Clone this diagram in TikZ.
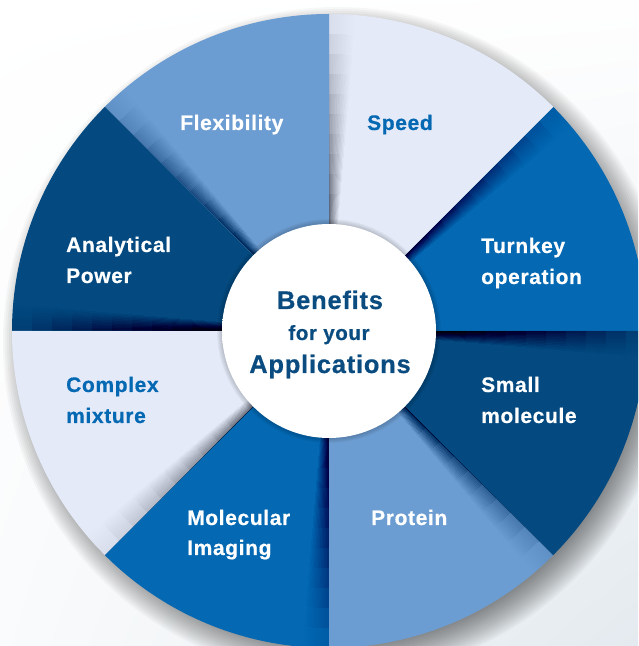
\documentclass[tikz,border=0pt]{standalone}
\usepackage{fontspec}
\newfontfamily\wheelfont{Liberation Sans}[LetterSpace=3.0, BoldFeatures={FakeBold=0.5}]
\usetikzlibrary{calc,shadings}
\definecolor{segdark}{RGB}{4,74,128}
\definecolor{segmid}{RGB}{4,104,178}
\definecolor{seglight}{RGB}{108,157,210}
\definecolor{segpale}{RGB}{228,234,248}
\definecolor{hubtext}{RGB}{10,76,128}
\definecolor{bgcorner}{RGB}{228,234,239}
% white disc with a thin grey rim
\pgfdeclareradialshading{hubshade}{\pgfpoint{0bp}{0bp}}{color(0bp)=(white); color(45bp)=(white); color(48.5bp)=(black!10); color(50bp)=(black!28)}

\begin{document}
\begin{tikzpicture}[x=1pt,y=1pt,
  lbl/.style={font=\wheelfont\bfseries\fontsize{21}{25}\selectfont, inner sep=0pt, anchor=base west},
  lblw/.style={lbl, text=white},
  lblb/.style={lbl, text=segmid},
  hub/.style={font=\wheelfont\bfseries\fontsize{#1}{#1}\selectfont, inner sep=0pt, anchor=base, text=hubtext}]
\useasboundingbox (0,0) rectangle (638,646);
\clip (0,0) rectangle (638,646);

% backdrop
\shade[upper left=white, upper right=white!97!bgcorner, lower left=white!80!bgcorner, lower right=bgcorner] (0,0) rectangle (638,646);

\coordinate (c) at (329,315);

% soft drop shadow of the wheel, cast towards the lower right
\foreach \k in {0,...,15}
  \fill[black, opacity=0.03] ($(c)+(9,-11)$) circle ({305+2*\k});

\begin{scope}[shift={(c)}]
% eight segments
\foreach \a/\col in {0/segmid,45/segpale,90/seglight,135/segdark,180/segpale,225/segmid,270/seglight,315/segdark}
  \fill[\col] (0,0) -- (\a:317) arc[start angle=\a, end angle=\a+45, radius=317] -- cycle;

% overlap shadows along each segment's leading edge, fading towards the rim
\foreach \edge in {45,90,...,360}
  \foreach \j in {0,...,9}
    \foreach \k in {1,...,12}
      \fill[black, opacity=0.0037] ({\edge-0.4*\k}:100) arc[start angle={\edge-0.4*\k}, end angle=\edge, radius=100]
        -- (\edge:{317-20*\j}) arc[start angle=\edge, end angle={\edge-0.4*\k}, radius={317-20*\j}] -- cycle;

% hub
\foreach \k in {1,...,5}
  \fill[black, opacity=0.035] (0,0) circle ({107+\k});
\shade[shading=hubshade] (0,0) circle (107);
\end{scope}

% segment labels
\node[lblb] (speed) at (367,516) {Speed};
\node[lblw] (flex) at (180,516) {Flexibility};
\node[lblw] (anal1) at (66,394) {Analytical};
\node[lblw] (anal2) at (66,363) {Power};
\node[lblw] (turn1) at (481,393) {Turnkey};
\node[lblw] (turn2) at (481,362) {operation};
\node[lblb] (cplx1) at (66,254) {Complex};
\node[lblb] (cplx2) at (66,223) {mixture};
\node[lblw] (small1) at (481,254) {Small};
\node[lblw] (small2) at (481,223) {molecule};
\node[lblw] (mol1) at (187,121) {Molecular};
\node[lblw] (mol2) at (187,91) {Imaging};
\node[lblw] (prot) at (371,121) {Protein};

% hub text
\node[hub=25.5] (ben) at (330,337) {Benefits};
\node[hub=20.5] (fyr) at (329,306) {for your};
\node[hub=25.5] (app) at (330,273) {Applications};
\end{tikzpicture}
\end{document}
